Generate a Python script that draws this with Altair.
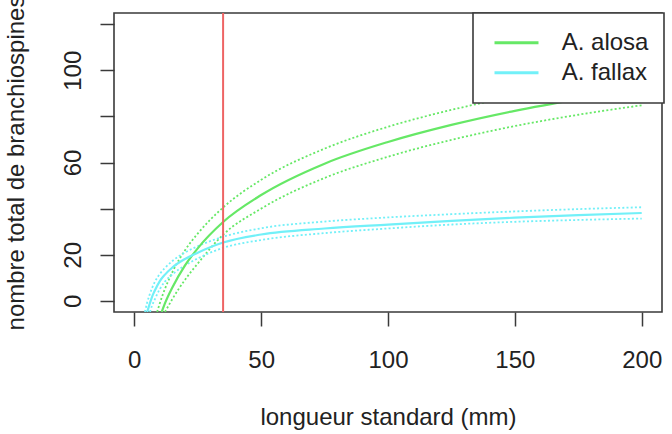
import altair as alt
import pandas as pd

# ---- data ----
alosa_fit_x = [10.8, 12, 15, 20, 25, 35, 50, 75, 100, 125, 150, 175, 200]
alosa_fit_y = [-4.8, -1.3, 5.8, 15.4, 22.8, 34.2, 45.9, 59.5, 68.9, 76.3, 82.4, 87.5, 92.0]

alosa_up_x = [9.0, 10, 12, 15, 20, 25, 35, 50, 75, 100, 125, 150, 175, 200]
alosa_up_y = [-4.8, -1.2, 5.0, 12.5, 22.0, 29.2, 40.5, 52.5, 66.0, 75.5, 82.8, 88.8, 94.0, 98.5]

alosa_lo_x = [12.1, 15, 20, 25, 35, 50, 75, 100, 125, 150, 175, 200]
alosa_lo_y = [-4.8, 0.8, 9.2, 16.2, 28.7, 40.0, 53.3, 62.5, 69.8, 75.8, 80.7, 84.8]

fallax_fit_x = [5.1, 6, 7, 8, 10, 12, 15, 20, 25, 35, 50, 75, 100, 125, 150, 175, 200]
fallax_fit_y = [-4.8, -1.5, 1.8, 4.3, 8.5, 11.3, 14.5, 18.2, 20.9, 25.3, 28.8, 31.4, 33.1, 34.7, 36.1, 37.2, 38.1]

fallax_up_x = [4.2, 5, 6, 8, 10, 12, 15, 20, 25, 35, 50, 75, 100, 125, 150, 175, 200]
fallax_up_y = [-4.8, -1.0, 2.6, 8.0, 11.6, 14.2, 17.3, 21.0, 23.7, 27.8, 31.5, 34.4, 36.2, 37.6, 38.8, 39.8, 40.6]

fallax_lo_x = [6.2, 7, 8, 10, 12, 15, 20, 25, 35, 50, 75, 100, 125, 150, 175, 200]
fallax_lo_y = [-4.8, -2.0, 0.5, 5.0, 8.3, 11.5, 15.4, 18.4, 23.0, 26.4, 29.4, 31.4, 33.1, 34.3, 35.1, 35.7]

species = ["A. alosa", "A. fallax"]
colors = ["#66e866", "#72f0f8"]
cutoff_x = [35]

x_ticks = [0, 50, 100, 150, 200]
y_ticks = [0, 20, 40, 60, 80, 100, 120]

def frame(xs, ys, sp, kind):
    return pd.DataFrame({"x": xs, "y": ys, "species": sp, "kind": kind})

df = pd.concat([
    frame(alosa_fit_x, alosa_fit_y, species[0], "fit"),
    frame(alosa_up_x, alosa_up_y, species[0], "upper"),
    frame(alosa_lo_x, alosa_lo_y, species[0], "lower"),
    frame(fallax_fit_x, fallax_fit_y, species[1], "fit"),
    frame(fallax_up_x, fallax_up_y, species[1], "upper"),
    frame(fallax_lo_x, fallax_lo_y, species[1], "lower"),
], ignore_index=True)

xscale = alt.Scale(domain=[-8, 208], nice=False, zero=False)
yscale = alt.Scale(domain=[-4.8, 124.8], nice=False, zero=False)

xaxis = alt.Axis(values=x_ticks, title="longueur standard (mm)", labelBaseline="alphabetic",
                 labelPadding=41, labelFlush=False, labelOverlap=False,
                 titleY=112.5, titleBaseline="alphabetic")
yaxis = alt.Axis(values=y_ticks, title="nombre total de branchiospines", labelAngle=-90,
                 labelAlign="center", labelBaseline="alphabetic", labelPadding=20,
                 labelOverlap=False,
                 labelExpr="(datum.value == 40 || datum.value == 80 || datum.value == 120) ? '' : datum.label",
                 titleX=-91, titleAngle=-90, titleBaseline="alphabetic", titleAlign="center")

base = alt.Chart(df)

fit = base.transform_filter(alt.datum.kind == "fit").mark_line(
    strokeWidth=2.2, interpolate="monotone", clip=True
).encode(
    x=alt.X("x:Q", scale=xscale, axis=xaxis),
    y=alt.Y("y:Q", scale=yscale, axis=yaxis),
    color=alt.Color("species:N", scale=alt.Scale(domain=species, range=colors),
                    legend=alt.Legend(title=None, orient="none", legendX=359, legendY=0)),
    detail="kind:N",
)

dotted_layers = []
for sp, col in zip(species, colors):
    dotted_layers.append(
        base.transform_filter((alt.datum.kind != "fit") & (alt.datum.species == sp)).mark_line(
            strokeWidth=1.8, strokeDash=[2, 2.2], interpolate="monotone", clip=True, color=col
        ).encode(
            x=alt.X("x:Q", scale=xscale),
            y=alt.Y("y:Q", scale=yscale),
            detail="kind:N",
        )
    )

rule = alt.Chart(pd.DataFrame({"x": cutoff_x})).mark_rule(color="#ee6464", strokeWidth=2).encode(
    x=alt.X("x:Q", scale=xscale)
)

chart = alt.layer(*dotted_layers, fit, rule).properties(
    width=548, height=299,
    autosize=alt.AutoSizeParams(type="none"),
    padding={"left": 114, "top": 13, "right": 10, "bottom": 122},
    background="white",
).configure(
    font="Liberation Sans",
).configure_view(
    stroke="#3a3a3a", strokeWidth=1.6,
).configure_axis(
    domain=False, grid=False, tickSize=14, tickWidth=1.5, tickColor="#3a3a3a",
    labelFontSize=24, labelColor="#222222", titleFontSize=24, titleFontWeight="normal",
    titleColor="#222222",
).configure_legend(
    fillColor="white", strokeColor="#3a3a3a", strokeWidth=1.6, padding=15,
    symbolType="M-1.333,0H1.333", symbolSize=1089, symbolStrokeWidth=3, symbolOffset=10.5,
    labelFontSize=24, labelColor="#222222", labelOffset=27.2, rowPadding=0,
    clipHeight=29.4,
)

chart.save("out.html", embed_options={"renderer": "svg", "actions": False})
